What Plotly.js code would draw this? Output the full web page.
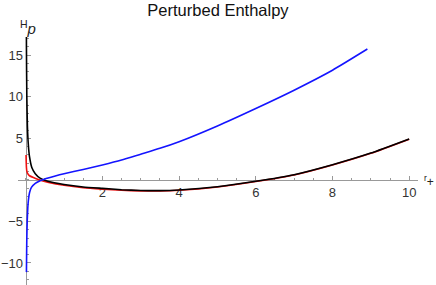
<!DOCTYPE html>
<html>
<head>
<meta charset="utf-8">
<script src="https://cdn.plot.ly/plotly-3.0.1.min.js"></script>
<style>html,body{margin:0;padding:0;background:#fff;}#chart{width:436px;height:285px;}</style>
</head>
<body>
<div id="chart"></div>
<script>
// Blue curve
const blueX = [0.02, 0.025, 0.03, 0.04, 0.055, 0.07, 0.1, 0.15, 0.25, 0.375, 0.5, 0.75, 1, 1.5, 2, 2.5, 3, 3.5, 4, 5, 6, 7, 8, 8.91];
const blueY = [-11.1, -8.8, -7.0, -5.0, -3.4, -2.5, -1.55, -0.9, -0.42, -0.1, 0.12, 0.45, 0.75, 1.25, 1.8, 2.4, 3.1, 3.8, 4.6, 6.5, 8.6, 10.8, 13.2, 15.75];
// Red curve
const redX = [0.01, 0.012, 0.015, 0.02, 0.03, 0.05, 0.1, 0.2, 0.35, 0.6, 1, 1.5, 2, 2.5, 3, 3.5, 4, 5, 6, 7, 8, 9, 10];
const redY = [3.0, 2.5, 2.0, 1.5, 1.05, 0.78, 0.5, 0.28, 0.02, -0.3, -0.65, -0.95, -1.12, -1.25, -1.32, -1.33, -1.25, -0.85, -0.2, 0.6, 1.8, 3.2, 4.9];
// Black curve
const blackX = [0.015, 0.02, 0.03, 0.045, 0.07, 0.1, 0.16, 0.25, 0.375, 0.6, 1, 1.5, 2, 2.5, 3, 3.5, 4, 5, 6, 7, 8, 9, 10];
const blackY = [25, 16, 10, 6.5, 4.2, 2.8, 1.5, 0.75, 0.22, -0.2, -0.55, -0.85, -1.02, -1.18, -1.27, -1.29, -1.21, -0.82, -0.17, 0.63, 1.83, 3.23, 4.93];

const xRange = [-0.2, 10.23];
const yRange = [-12.65, 17.2];
const xTicks = [2, 4, 6, 8, 10];
const yTicks = [-10, -5, 5, 10, 15];

const traces = [
  {x: redX, y: redY, mode: 'lines', line: {color: '#ee1111', width: 1.6, shape: 'spline', smoothing: 0.5}},
  {x: blackX, y: blackY, mode: 'lines', line: {color: '#000000', width: 1.6, shape: 'spline', smoothing: 0.5}},
  {x: blueX, y: blueY, mode: 'lines', line: {color: '#1414ff', width: 1.6, shape: 'spline', smoothing: 0.5}}
];

const axisColor = '#999999';
const tickFont = {family: 'Liberation Sans, Arial, sans-serif', size: 13, color: '#333333'};

const layout = {
  width: 436, height: 285,
  margin: {l: 18, r: 18, t: 37, b: 0},
  paper_bgcolor: '#ffffff', plot_bgcolor: '#ffffff',
  showlegend: false,
  title: {text: 'Perturbed Enthalpy', x: 0.5, xref: 'paper', xanchor: 'center', y: 0.965, yref: 'container', yanchor: 'middle',
          font: {family: 'Liberation Sans, Arial, sans-serif', size: 16.5, color: '#111111'}, pad: {t: 0}},
  xaxis: {
    range: xRange, anchor: 'free', position: (0 - yRange[0]) / (yRange[1] - yRange[0]),
    showgrid: false, zeroline: false, showline: true, linecolor: axisColor, linewidth: 1, layer: 'below traces',
    tickmode: 'array', tickvals: xTicks, ticks: 'inside', ticklen: 4, tickcolor: axisColor, tickwidth: 1,
    minor: {tickmode: 'linear', tick0: 0, dtick: 0.5, ticks: 'inside', ticklen: 2, tickcolor: axisColor, showgrid: false},
    tickfont: tickFont, fixedrange: true
  },
  yaxis: {
    range: yRange, anchor: 'free', position: (0 - xRange[0]) / (xRange[1] - xRange[0]),
    showgrid: false, zeroline: false, showline: true, linecolor: axisColor, linewidth: 1, layer: 'below traces',
    tickmode: 'array', tickvals: yTicks, ticks: 'inside', ticklen: 4, tickcolor: axisColor, tickwidth: 1,
    minor: {tickmode: 'linear', tick0: 0, dtick: 1, ticks: 'inside', ticklen: 2, tickcolor: axisColor, showgrid: false},
    tickfont: tickFont, fixedrange: true
  },
  annotations: [
    {text: '<sup>H</sup><i>p</i>', xref: 'paper', yref: 'paper', x: 0, y: 1 + 9 / 248, xanchor: 'left', yanchor: 'middle',
     showarrow: false, font: {family: 'Liberation Sans, Arial, sans-serif', size: 15, color: '#222222'}},
    {text: '<sup>r</sup>+', xref: 'paper', yref: 'paper', x: 1.01, y: (0 - yRange[0]) / (yRange[1] - yRange[0]) - 0.005, xanchor: 'left', yanchor: 'middle',
     showarrow: false, font: {family: 'Liberation Sans, Arial, sans-serif', size: 12, color: '#222222'}}
  ]
};

Plotly.newPlot('chart', traces, layout, {displayModeBar: false, staticPlot: true});
</script>
</body>
</html>
